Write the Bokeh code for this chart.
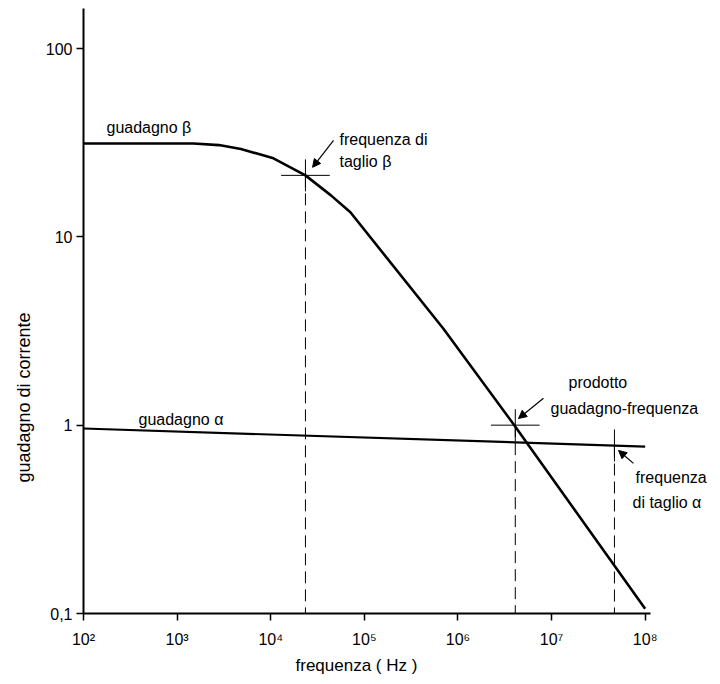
from bokeh.plotting import figure
from bokeh.models import FixedTicker, Label, Arrow, NormalHead, Range1d, Title
from bokeh.embed import file_html
from bokeh.resources import INLINE

# ---- data ----
beta_freq = [1e2, 1.5e3, 2.8e3, 4.8e3, 1.07e4, 2.35e4, 4.4e4, 7.1e4, 7.0e5, 4.0e6, 1.0e8]
beta_gain = [31.3, 31.3, 30.7, 29.3, 26.1, 21.2, 16.6, 13.5, 3.25, 1.0, 0.106]
alpha_freq = [1e2, 1e8]
alpha_gain = [0.96, 0.77]
# marked points: beta cut-off, gain-bandwidth product, alpha cut-off
mark_freq = [2.35e4, 4.1e6, 4.7e7]
mark_gain = [21.2, 1.0, 0.78]

x_ticks = [1e2, 1e3, 1e4, 1e5, 1e6, 1e7, 1e8]
x_tick_labels = ["10²", "10³", "10⁴", "10⁵", "10⁶", "10⁷", "10⁸"]
y_ticks = [0.1, 1, 10, 100]
y_tick_labels = ["0,1", "1", "10", "100"]

FONT = "Liberation Sans"

p = figure(width=720, height=684, x_axis_type="log", y_axis_type="log",
           x_range=Range1d(1e2, 10 ** 8.805), y_range=Range1d(0.1, 10 ** 2.2124),
           output_backend="svg", toolbar_location=None, title=None,
           min_border_left=83, min_border_right=0, min_border_top=8,
           min_border_bottom=71)
p.grid.visible = False
p.outline_line_color = None
p.background_fill_color = "white"
p.border_fill_color = "white"

p.xaxis.ticker = FixedTicker(ticks=x_ticks, minor_ticks=[])
p.yaxis.ticker = FixedTicker(ticks=y_ticks, minor_ticks=[])
p.xaxis.bounds = (1e2, 10 ** 8.055)
p.xaxis.major_label_overrides = {t: l for t, l in zip(x_ticks, x_tick_labels)}
p.yaxis.major_label_overrides = {t: l for t, l in zip(y_ticks, y_tick_labels)}
for ax in (p.xaxis, p.yaxis):
    ax.axis_line_width = 2
    ax.axis_line_color = "black"
    ax.major_tick_line_width = 1.5
    ax.major_tick_line_color = "black"
    ax.major_tick_out = 7
    ax.major_tick_in = 0
    ax.minor_tick_out = 0
    ax.minor_tick_in = 0
    ax.major_label_text_font = FONT
    ax.major_label_text_font_size = "16px"
    ax.major_label_text_color = "black"
p.xaxis.major_label_standoff = 10
p.yaxis.major_label_standoff = 4

# curves
p.line(beta_freq, beta_gain, line_width=2.6, line_color="black")
p.line(alpha_freq, alpha_gain, line_width=2.2, line_color="black")

# dashed drop lines
p.segment(x0=mark_freq, y0=mark_gain, x1=mark_freq, y1=[0.1] * len(mark_freq),
          line_width=1, line_color="black", line_dash="12 6")

# crosses
hx = 10 ** 0.26
vy = 10 ** 0.085
p.segment(x0=[f / hx for f in mark_freq[:2]], y0=mark_gain[:2],
          x1=[f * hx for f in mark_freq[:2]], y1=mark_gain[:2],
          line_width=1, line_color="black")
p.segment(x0=mark_freq, y0=[g * vy for g in mark_gain],
          x1=mark_freq, y1=[g / vy for g in mark_gain],
          line_width=1, line_color="black")

# arrows
arrows = [((4.69e4, 32.5), (2.8e4, 23.4)),
          ((8.2e6, 1.39), (4.44e6, 1.085)),
          ((7.5e7, 0.627), (5.2e7, 0.734))]
for (xs, ys), (xe, ye) in arrows:
    p.add_layout(Arrow(end=NormalHead(size=8, fill_color="black", line_color="black"),
                       x_start=xs, y_start=ys, x_end=xe, y_end=ye,
                       line_width=1.2, line_color="black"))

# labels
labels = [("guadagno β", 176, 38.1),
          ("guadagno α", 387, 1.072),
          ("frequenza di", 5.43e4, 32.9),
          ("taglio β", 5.43e4, 25.1),
          ("prodotto", 1.52e7, 1.69),
          ("guadagno-frequenza", 9.75e6, 1.227),
          ("frequenza", 7.9e7, 0.527),
          ("di taglio α", 7.33e7, 0.389)]
for t, x, y in labels:
    p.add_layout(Label(x=x, y=y, text=t, text_font=FONT, text_font_size="16px",
                       text_color="black", text_baseline="alphabetic", text_align="left"))

# axis titles
p.add_layout(Title(text="frequenza ( Hz )", align="left", offset=212, standoff=6,
                   text_font=FONT, text_font_size="17px", text_font_style="normal",
                   text_color="black"), "below")
p.add_layout(Title(text="guadagno di corrente", align="left", offset=131, standoff=18,
                   text_font=FONT, text_font_size="18px", text_font_style="normal",
                   text_color="black"), "left")

open("out.html", "w").write(file_html(p, INLINE))
